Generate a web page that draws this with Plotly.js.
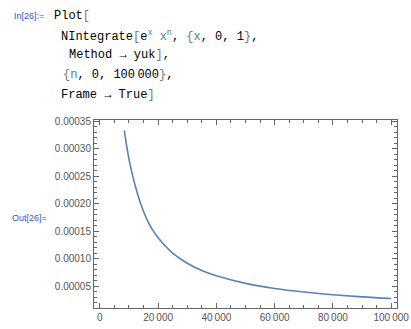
<!DOCTYPE html>
<html><head><meta charset="utf-8">
<script src="https://cdn.plot.ly/plotly-3.0.1.min.js"></script>
<style>html,body{margin:0;padding:0;background:#fff;}#plot{width:411px;height:329px;}</style>
</head><body><div id="plot"></div>
<script>
// Data
const nValues = [8400, 10000, 12000, 14000, 16000, 18000, 20000, 25000, 30000, 35000, 40000, 50000, 60000, 70000, 80000, 90000, 100000];
const integralValues = [0.000333, 0.000281, 0.000235, 0.000200, 0.000173, 0.000153, 0.000138, 0.000110, 0.0000915, 0.0000782, 0.0000685, 0.0000548, 0.0000455, 0.0000390, 0.0000342, 0.0000303, 0.0000272];
const xTickVals = [0, 20000, 40000, 60000, 80000, 100000];
const xTickText = ["0", "20\u2009000", "40\u2009000", "60\u2009000", "80\u2009000", "100\u2009000"];
const yTickVals = [0.00005, 0.00010, 0.00015, 0.00020, 0.00025, 0.00030, 0.00035];
const yTickText = ["0.00005", "0.00010", "0.00015", "0.00020", "0.00025", "0.00030", "0.00035"];

const L = 94, R = 397, T = 120, B = 308, W = 411, H = 329;
const px = x => (x - L) / (R - L);
const py = y => (B - y) / (B - T);

const codeFont = {family: "Liberation Mono, Courier New, monospace", size: 12, color: "#000"};
const labFont = {family: "Liberation Sans, Arial, sans-serif", size: 9, color: "#3a53c5"};
const teal = "#438a99";
function code(xp, yp, text) {
  return {xref: "paper", yref: "paper", x: px(xp), y: py(yp), xanchor: "left", yanchor: "middle",
    text: text, showarrow: false, font: codeFont};
}
const annotations = [
  {xref: "paper", yref: "paper", x: px(12), y: py(16), xanchor: "left", yanchor: "middle", text: "In[26]:=", showarrow: false, font: labFont},
  {xref: "paper", yref: "paper", x: px(10), y: py(218), xanchor: "left", yanchor: "middle", text: "Out[26]=", showarrow: false, font: labFont},
  code(52, 16, "Plot<span style='color:#777'>[</span>"),
  code(59, 36, "NIntegrate<span style='color:#777'>[</span>e<sup>" + "<span style='color:" + teal + "'>x</span></sup> <span style='color:" + teal + "'>x</span><sup><span style='color:" + teal + "'>n</span></sup>, <span style='color:#777'>{</span><span style='color:" + teal + "'>x</span>, 0, 1<span style='color:#777'>}</span>,"),
  code(67, 55, "Method \u2192 yuk<span style='color:#777'>]</span>,"),
  code(61, 75, "<span style='color:#777'>{</span><span style='color:" + teal + "'>n</span>, 0, 100\u2009000<span style='color:#777'>}</span>,"),
  code(59, 95, "Frame \u2192 True<span style='color:#777'>]</span>")
];

const axisCommon = {
  showgrid: false, zeroline: false, showline: true, linecolor: "#666", linewidth: 1,
  mirror: "ticks", ticks: "inside", ticklen: 5, tickcolor: "#666", tickwidth: 1,
  tickfont: {family: "Liberation Sans, Arial, sans-serif", size: 10, color: "#555"},
  tickmode: "array"
};

const trace = {x: nValues, y: integralValues, type: "scatter", mode: "lines",
  line: {color: "#5E81B5", width: 1.6, shape: "spline", smoothing: 1}, hoverinfo: "none"};

const layout = {
  width: W, height: H, margin: {l: L, r: W - R, t: T, b: H - B},
  paper_bgcolor: "#fff", plot_bgcolor: "#fff", showlegend: false,
  xaxis: Object.assign({}, axisCommon, {range: [-2000, 102000], tickvals: xTickVals, ticktext: xTickText,
    minor: {dtick: 5000, tick0: 0, ticks: "inside", ticklen: 3, tickcolor: "#666", showgrid: false}}),
  yaxis: Object.assign({}, axisCommon, {range: [0.00001, 0.000352], tickvals: yTickVals, ticktext: yTickText,
    minor: {dtick: 0.00001, tick0: 0, ticks: "inside", ticklen: 3, tickcolor: "#666", showgrid: false}}),
  annotations: annotations
};
Plotly.newPlot("plot", [trace], layout, {staticPlot: true, displayModeBar: false});
</script></body></html>
